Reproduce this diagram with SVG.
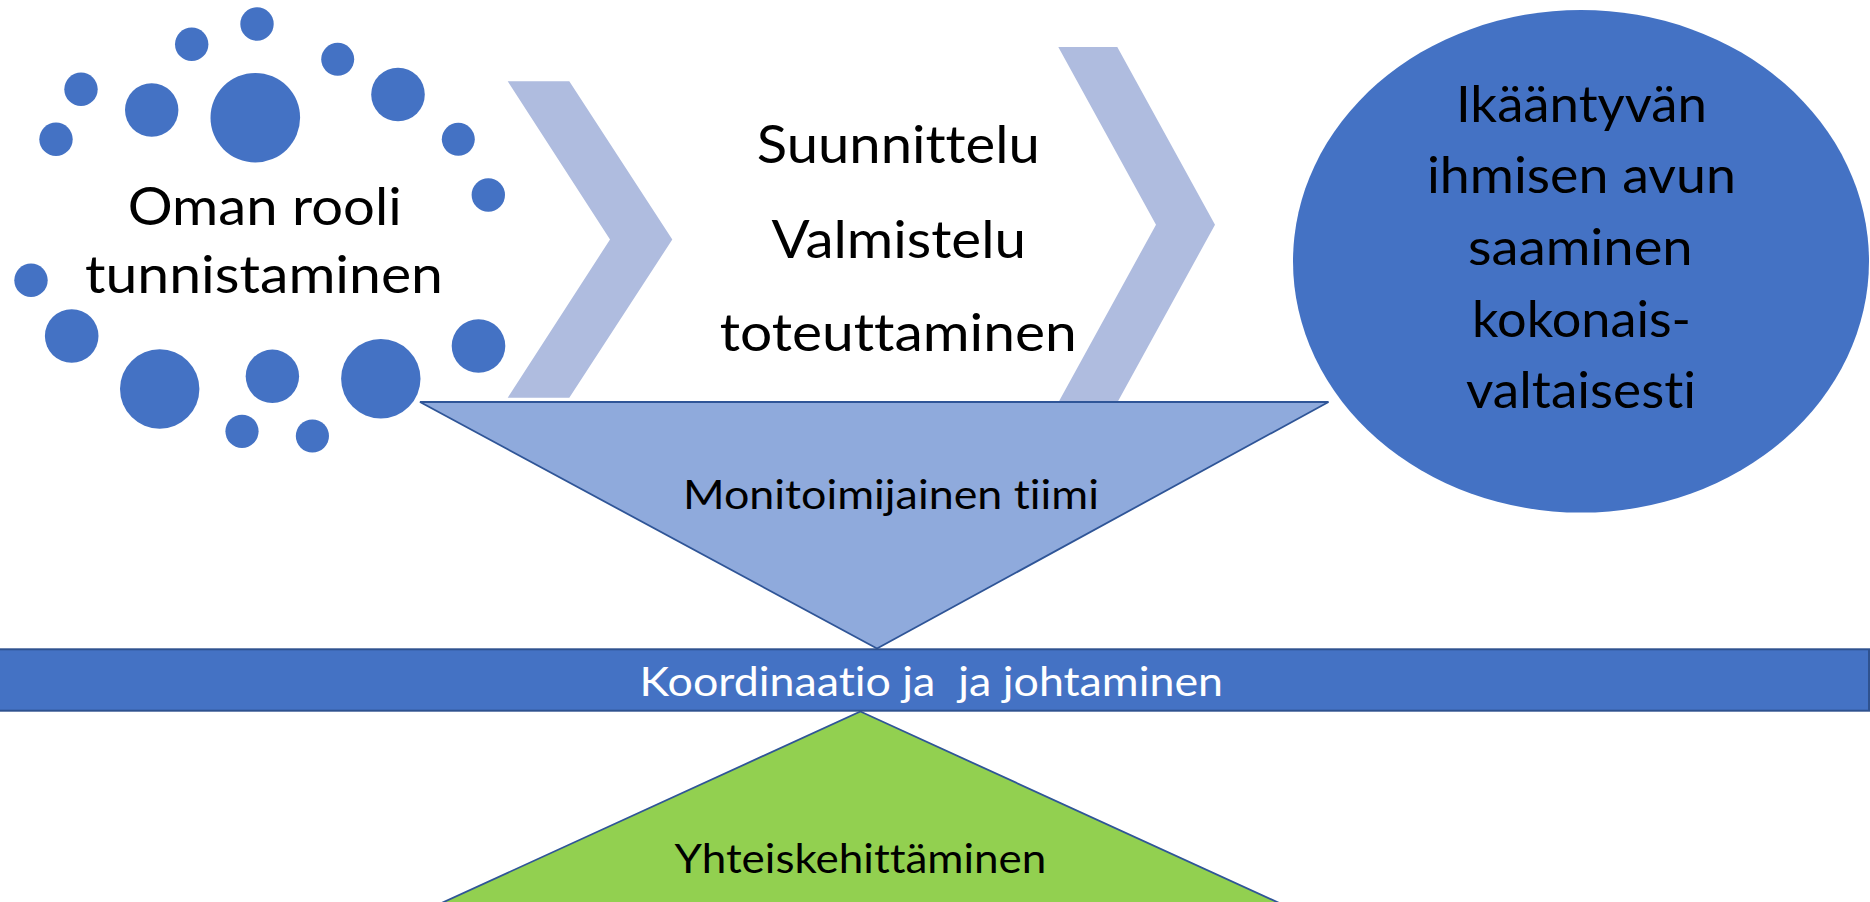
<svg xmlns="http://www.w3.org/2000/svg" width="1870" height="902" viewBox="0 0 1870 902">
<style>
.dot{fill:#4472C4}
.chev{fill:#AFBCDF}
.t{font-family:Lato,"Liberation Sans",sans-serif;fill:#000;text-anchor:middle;font-variant-ligatures:none;font-feature-settings:"liga" 0,"clig" 0}
.big{font-size:53px}
.mid{font-size:51px}
.sm{font-size:41px}
.w{fill:#FFFFFF;white-space:pre}
</style>
<rect width="1870" height="902" fill="#FFFFFF"/>
<g id="oman-rooli">
  <circle class="dot" cx="257" cy="24" r="16.7"/>
  <circle class="dot" cx="191.7" cy="44.3" r="16.7"/>
  <circle class="dot" cx="337.7" cy="59.3" r="16.5"/>
  <circle class="dot" cx="81" cy="89.3" r="16.7"/>
  <circle class="dot" cx="151.7" cy="110" r="26.7"/>
  <circle class="dot" cx="255.3" cy="117.7" r="44.8"/>
  <circle class="dot" cx="398" cy="94.5" r="26.8"/>
  <circle class="dot" cx="56" cy="139.3" r="16.7"/>
  <circle class="dot" cx="458.3" cy="139.3" r="16.5"/>
  <circle class="dot" cx="488.3" cy="195" r="16.7"/>
  <circle class="dot" cx="31" cy="280.3" r="16.7"/>
  <circle class="dot" cx="71.7" cy="336" r="26.8"/>
  <circle class="dot" cx="159.7" cy="389" r="39.7"/>
  <circle class="dot" cx="272.4" cy="376.3" r="26.7"/>
  <circle class="dot" cx="242" cy="431.3" r="16.6"/>
  <circle class="dot" cx="312.4" cy="436" r="16.6"/>
  <circle class="dot" cx="380.8" cy="378.7" r="39.7"/>
  <circle class="dot" cx="478.5" cy="346" r="26.8"/>
  <text class="t big" x="264.7" y="225" textLength="274" lengthAdjust="spacingAndGlyphs">Oman rooli</text>
  <text class="t big" x="264" y="293.3" textLength="358" lengthAdjust="spacingAndGlyphs">tunnistaminen</text>
</g>
<g id="chevron-1">
  <polygon class="chev" points="507.7,81.3 569.3,81.3 672.3,239.5 569.3,397.7 507.7,397.7 610,239.5"/>
</g>
<g id="suunnittelu">
  <text class="t big" x="898.3" y="163.3" textLength="283" lengthAdjust="spacingAndGlyphs">Suunnittelu</text>
  <text class="t big" x="898.7" y="257.5" textLength="254.6" lengthAdjust="spacingAndGlyphs">Valmistelu</text>
  <text class="t big" x="898.2" y="351.3" textLength="357" lengthAdjust="spacingAndGlyphs">toteuttaminen</text>
</g>
<g id="chevron-2">
  <polygon class="chev" points="1058.3,47 1117.3,47 1215,224.7 1117.3,402.4 1058.3,402.4 1156,224.7"/>
</g>
<g id="ikaantyvan">
  <ellipse cx="1581" cy="261.3" rx="288" ry="251.3" fill="#4472C4"/>
  <text class="t mid" x="1581.5" y="121.7" textLength="251" lengthAdjust="spacingAndGlyphs">Ikääntyvän</text>
  <text class="t mid" x="1581.4" y="192.7" textLength="309" lengthAdjust="spacingAndGlyphs">ihmisen avun</text>
  <text class="t mid" x="1580.4" y="265" textLength="224.6" lengthAdjust="spacingAndGlyphs">saaminen</text>
  <text class="t mid" x="1581.5" y="336.7" textLength="219" lengthAdjust="spacingAndGlyphs">kokonais-</text>
  <text class="t mid" x="1581" y="408.3" textLength="230" lengthAdjust="spacingAndGlyphs">valtaisesti</text>
</g>
<g id="monitoimijainen-tiimi">
  <polygon points="420,402 1328.5,402 877,648.5" fill="#8FAADC" stroke="#2F5597" stroke-width="1.8"/>
  <text class="t sm" x="891" y="509.3" textLength="416" lengthAdjust="spacingAndGlyphs">Monitoimijainen tiimi</text>
</g>
<g id="yhteiskehittaminen">
  <polygon points="860.4,711.5 1382,950 338.8,950" fill="#92D050" stroke="#2F5597" stroke-width="1.8"/>
  <text class="t sm" x="860.4" y="872.7" textLength="372" lengthAdjust="spacingAndGlyphs">Yhteiskehittäminen</text>
</g>
<g id="koordinaatio">
  <rect x="-2" y="649.3" width="1871" height="61.4" fill="#4472C4" stroke="#2F528F" stroke-width="2"/>
  <text class="t sm w" x="931.3" y="696" textLength="583.5" lengthAdjust="spacingAndGlyphs">Koordinaatio ja  ja johtaminen</text>
</g>
<g id="connectors"></g>
</svg>
